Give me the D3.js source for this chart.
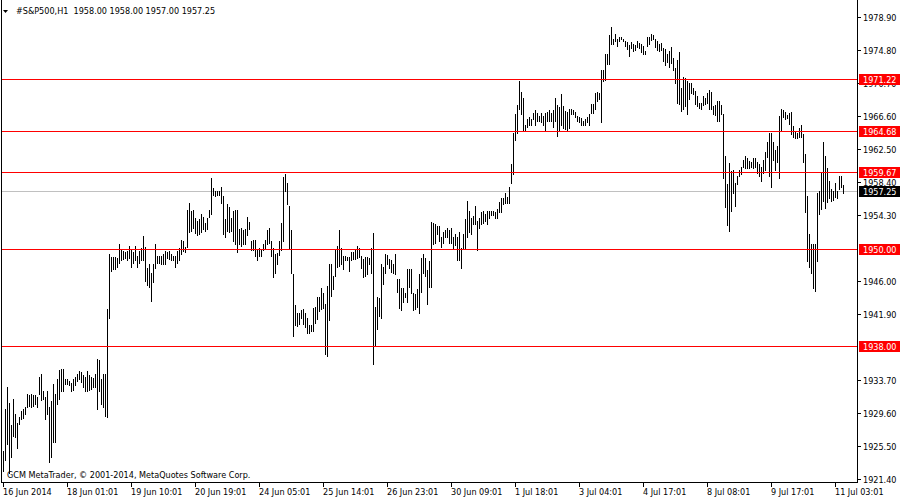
<!DOCTYPE html>
<html><head><meta charset="utf-8">
<script src="https://cdn.jsdelivr.net/npm/d3@7"></script>
<style>
html,body{margin:0;padding:0;background:#fff;}
svg{display:block;}
text{font-family:"DejaVu Sans Condensed","DejaVu Sans",sans-serif;font-size:9px;font-stretch:condensed;}
</style></head><body>
<svg id="c" width="900" height="500"></svg>
<script>
const symbolTitle = "#S&P500,H1";
const lastOHLC = ["1958.00", "1958.00", "1957.00", "1957.25"];
const copyright = "GCM MetaTrader, \u00A9 2001-2014, MetaQuotes Software Corp.";
const timeLabels = ["16 Jun 2014","18 Jun 01:01","19 Jun 10:01","20 Jun 19:01","24 Jun 05:01","25 Jun 14:01","26 Jun 23:01","30 Jun 09:01","1 Jul 18:01","3 Jul 04:01","4 Jul 17:01","8 Jul 08:01","9 Jul 17:01","11 Jul 03:01"];
const timeLabelBar = [0,32,64,96,128,160,192,224,256,288,320,352,384,416];
const priceTicks = [1978.90,1974.80,1970.70,1966.60,1962.50,1958.40,1954.30,1946.00,1941.90,1933.70,1929.60,1925.50,1921.40];
const priceMin = 1921.40, priceMax = 1978.90;
const levels = [1971.22,1964.68,1959.67,1950.00,1938.00];
const bidPrice = 1957.25;

const highs = [
1924.9,1930.1,1932.9,1930.9,1928.1,1931.4,1929.5,1928.4,1929.1,1929.9,
1930.1,1930.3,1932.0,1931.8,1932.0,1931.8,1931.8,1931.6,1934.1,1934.5,
1932.4,1931.6,1932.4,1930.3,1931.1,1933.2,1932.0,1933.8,1935.0,1935.1,
1935.1,1933.8,1933.8,1933.6,1933.4,1933.8,1934.1,1934.5,1934.9,1934.7,
1934.3,1934.1,1934.9,1934.3,1934.1,1934.0,1934.5,1936.3,1936.2,1933.8,
1934.5,1934.5,1942.6,1949.4,1949.0,1949.0,1949.0,1948.9,1950.7,1949.9,
1949.8,1949.7,1949.8,1950.4,1949.9,1949.7,1950.4,1949.2,1949.8,1950.2,
1951.7,1950.3,1947.7,1948.1,1947.0,1948.1,1950.6,1949.2,1949.2,1949.2,
1949.4,1949.8,1949.7,1949.8,1949.4,1949.2,1949.2,1949.8,1950.2,1951.2,
1951.0,1950.3,1954.9,1955.8,1954.8,1954.9,1953.9,1953.5,1953.7,1954.4,
1954.0,1953.3,1953.9,1954.9,1958.8,1957.6,
1957.3,1957.3,1957.3,1957.7,1956.6,1953.7,1955.6,1955.2,1953.9,1954.8,
1954.9,1954.9,1952.5,1952.7,1952.4,1952.5,1954.0,1953.4,1951.0,1951.1,
1951.1,1950.0,1950.2,1950.0,1950.7,1951.1,1952.4,1952.7,1951.0,1950.2,
1949.4,1949.5,1951.0,1953.2,1959.0,1959.4,1958.2,1955.4,1952.4,1946.9,
1943.1,1942.1,1942.1,1942.4,1942.5,1942.0,1941.5,1940.6,1940.6,1942.7,
1942.8,1944.1,1944.1,1945.2,1944.5,1943.2,1945.4,1948.2,1948.1,1946.7,
1949.9,1950.4,1952.4,1950.1,1949.2,1949.2,1949.0,1949.0,1949.7,1949.7,
1949.9,1950.4,1950.1,1949.2,1948.8,1949.0,1949.0,1948.9,1950.1,1952.0,
1942.8,1944.1,1943.9,1948.1,1947.8,1949.4,1949.3,1948.8,1948.6,1948.1,
1949.4,1946.3,1946.3,1945.2,1945.2,1944.5,1947.5,1947.5,1947.5,1944.6,
1944.4,1945.0,1946.9,1948.9,1949.4,
1948.9,1947.4,1948.5,1953.4,1953.3,1953.1,1952.9,1952.9,1951.5,1952.1,
1952.4,1952.6,1952.4,1952.6,1951.5,1951.9,1951.5,1952.2,1950.2,1951.9,
1953.7,1956.0,1954.8,1953.9,1954.1,1955.4,1953.5,1953.9,1954.6,1954.7,
1954.4,1954.8,1954.8,1954.8,1954.8,1954.6,1955.0,1955.9,1956.4,1956.4,
1957.0,1956.5,1957.7,1960.6,1964.5,1966.8,1968.0,1970.9,1969.6,1968.8,
1965.5,1966.2,1966.4,1966.2,1967.0,1967.3,1967.0,1966.6,1966.9,1966.6,
1967.0,1967.1,1967.3,1966.9,1967.3,1968.8,1968.0,1967.7,1969.3,1967.8,
1967.2,1967.1,1967.5,1967.5,1967.3,1967.1,1966.6,1966.4,1966.3,1966.0,
1966.2,1966.4,1966.8,1968.1,1968.1,1969.4,1969.6,1969.4,1972.3,1972.3,
1974.3,1974.3,1976.7,1977.6,1976.1,1976.8,1976.1,1976.4,1976.4,1976.1,
1975.9,1975.8,1975.4,1975.8,1975.6,
1975.4,1975.9,1975.7,1975.6,1975.3,1974.7,1976.4,1976.4,1976.8,1976.7,
1976.1,1975.9,1975.6,1975.7,1975.0,1974.9,1974.3,1974.7,1975.2,1973.8,
1972.6,1973.5,1974.5,1970.1,1971.4,1971.3,1970.9,1970.7,1970.7,1970.1,
1969.7,1969.1,1968.2,1968.2,1969.1,1968.8,1969.5,1969.8,1969.6,1967.8,
1968.0,1968.4,1968.5,1968.0,1966.8,1961.6,1958.1,1960.7,1959.7,1959.8,
1958.2,1959.1,1959.8,1960.2,1961.1,1961.6,1961.4,1961.0,1960.8,1961.3,
1961.4,1960.8,1960.6,1960.2,1961.1,1962.1,1963.4,1964.5,1964.5,1963.4,
1962.4,1962.9,1966.6,1967.5,1967.3,1967.1,1966.7,1966.9,1967.1,1965.3,
1964.7,1964.5,1965.1,1965.5,1964.3,1961.8,1956.6,1951.9,1950.6,1950.6,
1950.6,1957.0,1957.3,1959.5,1963.4,1961.6,1960.1,1958.5,1957.5,1957.3,
1958.3,1957.3,1959.1,1959.1,1958.0
];
const lows = [
1922.4,1923.8,1925.8,1922.2,1924.1,1926.7,1926.6,1925.3,1928.2,1928.9,
1929.0,1929.5,1930.3,1930.5,1930.3,1930.5,1930.7,1930.3,1932.0,1931.2,
1931.4,1928.9,1929.5,1923.5,1924.1,1926.0,1926.0,1930.7,1931.4,1932.4,
1932.4,1933.2,1933.2,1933.1,1932.4,1932.5,1933.1,1933.6,1933.8,1933.5,
1932.8,1932.4,1932.4,1932.5,1932.6,1932.8,1932.8,1930.1,1932.4,1930.7,
1930.3,1929.3,1929.1,1941.5,1947.3,1947.5,1947.5,1947.8,1948.3,1948.6,
1948.8,1948.9,1948.6,1948.9,1947.8,1948.3,1948.6,1947.8,1948.3,1948.6,
1948.6,1946.1,1945.6,1945.3,1943.5,1945.9,1947.6,1948.3,1948.3,1948.1,
1948.1,1948.1,1948.9,1948.8,1948.6,1948.6,1947.8,1948.3,1948.6,1949.4,
1949.8,1949.6,1950.3,1952.1,1952.3,1952.7,1952.0,1951.8,1951.9,1952.1,
1952.5,1952.3,1952.5,1954.0,1954.4,1956.8,
1956.6,1956.8,1956.8,1955.8,1951.9,1951.5,1952.3,1952.2,1952.3,1951.0,
1950.6,1949.6,1950.6,1950.4,1950.6,1950.6,1951.8,1952.5,1949.9,1949.9,
1949.2,1948.6,1949.1,1949.2,1949.9,1950.1,1950.7,1950.8,1949.1,1946.6,
1947.1,1948.1,1949.3,1949.9,1951.0,1957.3,1955.6,1950.0,1947.1,1939.2,
1940.6,1940.5,1940.7,1941.4,1940.7,1940.3,1939.6,1939.6,1939.8,1939.8,
1940.8,1941.3,1942.3,1942.5,1942.7,1936.9,1936.7,1941.2,1944.2,1945.0,
1946.7,1947.8,1947.9,1948.1,1947.5,1948.6,1948.6,1947.3,1948.6,1948.8,
1948.8,1948.9,1949.0,1947.7,1946.6,1946.7,1946.9,1948.1,1947.1,1935.7,
1938.0,1940.1,1941.7,1941.5,1945.7,1947.1,1948.1,1947.6,1947.2,1947.1,
1946.9,1944.7,1942.7,1942.4,1943.4,1944.0,1943.4,1945.3,1944.5,1942.4,
1942.5,1942.8,1942.0,1944.7,1947.1,
1946.7,1943.2,1945.3,1945.3,1950.6,1950.8,1951.9,1951.0,1950.3,1950.8,
1951.5,1951.5,1950.8,1950.8,1950.2,1950.5,1948.6,1948.6,1947.6,1950.1,
1950.0,1951.5,1952.1,1951.9,1953.1,1953.1,1949.9,1952.6,1953.1,1953.3,
1953.5,1953.1,1953.9,1954.3,1954.3,1953.9,1953.9,1954.6,1954.6,1955.6,
1955.7,1955.7,1955.8,1958.3,1959.3,1963.6,1964.5,1967.5,1966.8,1964.7,
1964.7,1965.2,1965.5,1965.5,1966.2,1965.5,1966.0,1966.0,1965.8,1965.5,
1964.7,1966.0,1966.0,1966.0,1965.2,1966.0,1964.1,1964.7,1965.5,1965.1,
1964.9,1964.8,1965.1,1966.8,1966.8,1966.4,1966.0,1965.8,1965.5,1965.5,
1965.5,1965.8,1965.5,1967.0,1967.0,1967.5,1968.4,1968.7,1965.8,1970.9,
1971.0,1973.0,1973.1,1975.5,1975.5,1975.9,1975.3,1975.9,1976.1,1975.9,
1975.3,1974.9,1974.0,1975.1,1974.7,
1974.8,1975.2,1975.1,1974.6,1974.3,1974.3,1975.3,1975.5,1976.0,1976.1,
1975.2,1974.8,1974.7,1974.8,1973.4,1972.9,1973.3,1972.7,1973.2,1972.3,
1970.7,1968.2,1968.1,1967.2,1967.4,1967.8,1966.8,1968.7,1969.5,1969.3,
1968.1,1967.8,1967.6,1967.5,1968.0,1968.1,1968.2,1967.5,1967.4,1966.8,
1966.7,1966.0,1966.0,1966.8,1958.9,1955.3,1953.0,1952.3,1954.8,1957.0,
1955.4,1958.1,1959.1,1959.3,1960.2,1960.1,1960.1,1960.1,1960.2,1960.1,
1960.2,1959.5,1959.1,1958.5,1959.5,1959.9,1961.5,1959.1,1957.8,1961.1,
1959.9,1960.8,1958.9,1964.8,1966.4,1966.2,1966.3,1965.6,1964.4,1964.0,
1963.8,1963.8,1964.0,1964.0,1960.8,1954.6,1948.5,1947.8,1947.1,1945.2,
1944.8,1948.5,1954.4,1955.0,1956.0,1955.1,1955.9,1956.4,1956.0,1956.1,
1956.5,1956.4,1957.5,1957.8,1957.0
];

const W = 900, H = 500;
const axisX = 857, axisY = 482;
const svg = d3.select("#c");
svg.append("rect").attr("width", W).attr("height", H).attr("fill", "#fff");

const x = d3.scaleLinear().domain([0, highs.length - 1]).range([3, 843]);
const y = d3.scaleLinear().domain([priceMin, priceMax]).range([479, 17]);
const fmt = d3.format(".2f");
const ry = v => Math.round(y(v));

// bid line (behind bars)
svg.append("line").attr("x1", 2).attr("x2", axisX).attr("y1", ry(bidPrice) + 0.5).attr("y2", ry(bidPrice) + 0.5)
  .attr("stroke", "#c0c0c0").attr("stroke-width", 1);

// bars
const bars = highs.map((h, i) => ({i, h, l: lows[i]}));
svg.append("g").selectAll("rect").data(bars).join("rect")
  .attr("x", d => Math.round(x(d.i)))
  .attr("width", 1)
  .attr("y", d => ry(d.h))
  .attr("height", d => Math.max(1, ry(d.l) - ry(d.h) + 1))
  .attr("fill", "#000");

// horizontal levels
svg.append("g").selectAll("line").data(levels).join("line")
  .attr("x1", 2).attr("x2", axisX)
  .attr("y1", d => ry(d) + 0.5).attr("y2", d => ry(d) + 0.5)
  .attr("stroke", "#ff0000").attr("stroke-width", 1);

// frame
svg.append("line").attr("x1", 1.5).attr("x2", 1.5).attr("y1", 0).attr("y2", axisY + 0.5).attr("stroke", "#000");
svg.append("line").attr("x1", axisX + 0.5).attr("x2", axisX + 0.5).attr("y1", 0).attr("y2", axisY + 1).attr("stroke", "#000");
svg.append("line").attr("x1", 1).attr("x2", axisX + 1).attr("y1", axisY + 0.5).attr("y2", axisY + 0.5).attr("stroke", "#000");

// right price axis
const ya = svg.append("g");
priceTicks.forEach(v => {
  const yy = ry(v) + 0.5;
  ya.append("line").attr("x1", axisX).attr("x2", axisX + 4).attr("y1", yy).attr("y2", yy).attr("stroke", "#000");
  ya.append("text").attr("x", 863).attr("y", yy).attr("dy", "0.35em").attr("fill", "#000").text(fmt(v));
});
// level labels
const labs = levels.map(v => ({v, bg: "#ff0000"})).concat([{v: bidPrice, bg: "#000"}]);
labs.forEach(d => {
  const yy = ry(d.v);
  ya.append("rect").attr("x", 859).attr("y", yy - 5).attr("width", 41).attr("height", 11).attr("fill", d.bg);
  ya.append("text").attr("x", 863).attr("y", yy + 0.5).attr("dy", "0.35em").attr("fill", "#fff").text(fmt(d.v));
});

// bottom time axis
const xa = svg.append("g");
timeLabelBar.forEach((b, k) => {
  const xx = Math.round(x(b)) + 0.5;
  xa.append("line").attr("x1", xx).attr("x2", xx).attr("y1", axisY).attr("y2", axisY + 5).attr("stroke", "#000");
  xa.append("text").attr("x", xx - 0.5).attr("y", 495).attr("fill", "#000").text(timeLabels[k]);
});

// header
svg.append("path").attr("d", "M3,10 L8,10 L5.5,13 Z").attr("fill", "#000");
svg.append("text").attr("x", 16).attr("y", 14).attr("fill", "#000").style("white-space", "pre")
  .text(symbolTitle + "  " + lastOHLC.join(" "));

// copyright
svg.append("text").attr("x", 7).attr("y", 478).attr("fill", "#000").text(copyright);
</script>
</body></html>
